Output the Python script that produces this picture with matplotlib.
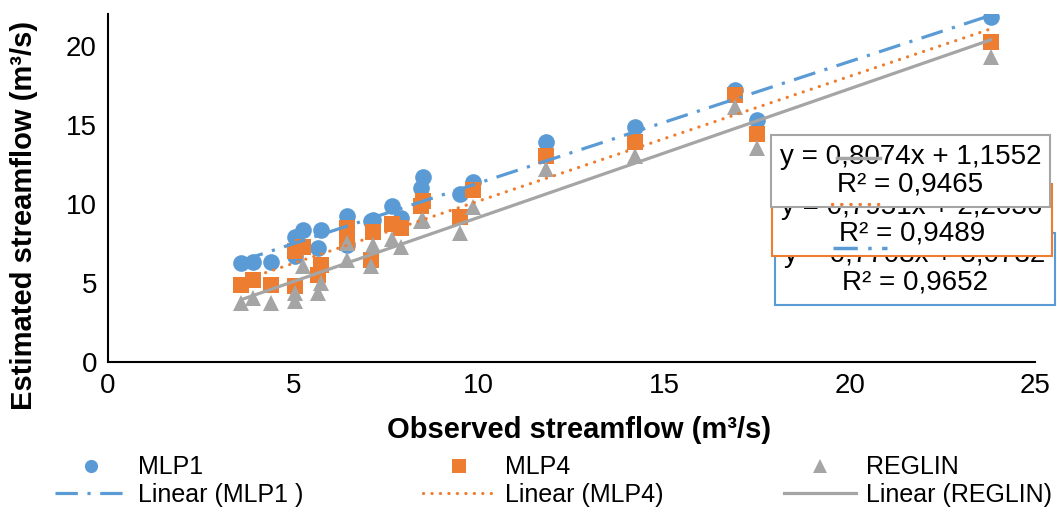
import numpy as np
import matplotlib
matplotlib.use("Agg")
import matplotlib.pyplot as plt
from matplotlib.lines import Line2D
from matplotlib.patches import Rectangle

plt.rcParams['font.family'] = ['Liberation Sans', 'DejaVu Sans']

# ---- data ----
observed = [3.6, 3.9, 4.4, 5.05, 5.05, 5.25, 5.65, 5.75, 6.45, 6.45, 7.1, 7.15,
            7.65, 7.9, 8.45, 8.5, 9.5, 9.85, 11.8, 14.2, 16.9, 17.5, 23.8]
mlp1 = [6.25, 6.35, 6.35, 6.7, 7.9, 8.35, 7.2, 8.35, 9.25, 7.4, 8.9, 9.0,
        9.85, 9.1, 11.0, 11.7, 10.6, 11.4, 13.9, 14.85, 17.2, 15.3, 21.8]
mlp4 = [4.85, 5.2, 4.85, 4.8, 7.0, 7.3, 5.5, 6.15, 8.45, 7.5, 6.45, 8.25,
        8.7, 8.45, 9.85, 10.2, 9.15, 10.9, 13.0, 13.9, 16.9, 14.4, 20.2]
reglin = [3.7, 4.05, 3.7, 3.85, 4.35, 6.1, 4.35, 5.0, 7.5, 6.45, 6.05, 7.4,
          7.75, 7.3, 8.9, 9.0, 8.15, 9.8, 12.2, 13.0, 16.1, 13.5, 19.3]

series_names = ["MLP1", "MLP4", "REGLIN"]
trend_labels = ["Linear (MLP1 )", "Linear (MLP4)", "Linear (REGLIN)"]
eq_texts = ["y = 0,7708x + 3,0732\nR² = 0,9652",
            "y = 0,7951x + 2,2036\nR² = 0,9489",
            "y = 0,8074x + 1,1552\nR² = 0,9465"]
x_ticks = [0, 5, 10, 15, 20, 25]
y_ticks = [0, 5, 10, 15, 20]

colors = ["#5B9BD5", "#ED7D31", "#A5A5A5"]
markers = ["o", "s", "^"]
msizes = [12, 11, 12]
styles = [dict(linestyle=(0, (7, 3, 1, 3)), dash_capstyle='butt'),
          dict(linestyle=(0, (0.05, 2.6)), dash_capstyle='round'),
          dict(linestyle='-')]

W, H = 1057, 512
fig = plt.figure(figsize=(W / 100, H / 100), dpi=100)
ax = fig.add_axes([108 / W, 1 - 362 / H, (1035 - 108) / W, (362 - 14) / H])

x = np.array(observed)
handles = []
for ys, c, m, ms, st, name, tl in zip([mlp1, mlp4, reglin], colors, markers, msizes,
                                       styles, series_names, trend_labels):
    ys = np.array(ys)
    ax.plot(x, ys, linestyle='none', marker=m, markersize=ms, color=c,
            markeredgewidth=0, zorder=3)
    k, b = np.polyfit(x, ys, 1)
    xx = np.array([x.min(), x.max()])
    ax.plot(xx, k * xx + b, color=c, linewidth=2.3, zorder=4, **st)
    handles.append(Line2D([], [], linestyle='none', marker=m, markersize=9.5,
                          color=c, markeredgewidth=0, label=name))
    handles.append(Line2D([], [], color=c, linewidth=2.3, label=tl, **st))

ax.set_xlim(0, 25)
ax.set_ylim(0, 22)
ax.set_xticks(x_ticks)
ax.set_yticks(y_ticks)
ax.tick_params(length=0, labelsize=20, pad=8)
for s in ['top', 'right']:
    ax.spines[s].set_visible(False)
for s in ['left', 'bottom']:
    ax.spines[s].set_linewidth(1.5)
    ax.spines[s].set_color('black')

fig.text(579 / W, 1 - 430 / H, "Observed streamflow (m³/s)", ha='center',
         va='center', fontsize=21, fontweight='bold')
fig.text(24 / W, 1 - 215 / H, "Estimated streamflow (m³/s)", ha='center',
         va='center', rotation=90, fontsize=21, fontweight='bold')

# equation boxes (blue bottom, orange middle, gray top)
boxes = [(775, 233, 1055, 305), (772, 184, 1052, 256), (771, 135, 1050, 207)]
for i in range(3):
    x0, y0, x1, y1 = boxes[i]
    fig.patches.append(Rectangle((x0 / W, 1 - y1 / H), (x1 - x0) / W, (y1 - y0) / H,
                                 transform=fig.transFigure, facecolor='white',
                                 edgecolor=colors[i], linewidth=1.5, zorder=10 + 2 * i))
    fig.text((x0 + x1) / 2 / W, 1 - (y0 + y1) / 2 / H, eq_texts[i], ha='center',
             va='center', fontsize=20, linespacing=1.05, zorder=11 + 2 * i)

# short line samples drawn over the boxes
samples = [(833, 887, 248), (832, 882, 204), (837, 880, 158)]
for (sx0, sx1, sy), c, st in zip(samples, colors, styles):
    fig.add_artist(Line2D([sx0 / W, sx1 / W], [1 - sy / H, 1 - sy / H],
                          transform=fig.transFigure, color=c, linewidth=2.5,
                          zorder=20, **st))

fig.legend(handles=handles, ncol=3, loc='lower left', mode='expand',
           bbox_to_anchor=(50 / W, 0.0, (1057 - 50) / W, 70 / H),
           frameon=False, fontsize=18, handlelength=2.9, handletextpad=0.4,
           labelspacing=0.15, borderaxespad=0.1, borderpad=0.1)

fig.savefig("out.png", dpi=100)
